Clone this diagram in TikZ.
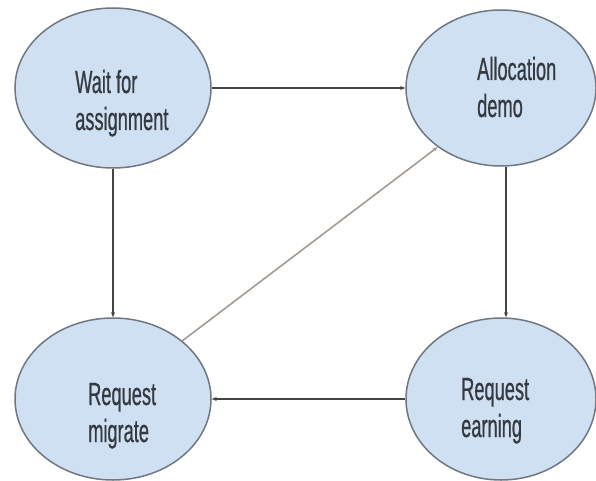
\documentclass[tikz,border=0pt]{standalone}
\usepackage{fontspec}
\setmainfont[FakeStretch=0.57]{Liberation Sans}
\newfontfamily\labelfont[FakeStretch=0.57,FakeBold=0.6]{Liberation Sans}
\usetikzlibrary{shapes.geometric,arrows.meta}
\definecolor{statefill}{HTML}{CFE0F3}
\definecolor{stateline}{HTML}{6F7780}
\definecolor{labeltext}{HTML}{353A40}
\definecolor{edgedark}{HTML}{454545}
\definecolor{edgelight}{HTML}{A39A93}
\tikzset{
  state/.style={ellipse, draw=stateline, fill=statefill, line width=1.5pt, inner sep=0pt},
  statelabel/.style={anchor=base west, align=left, inner sep=0pt, text=labeltext,
    font=\labelfont\fontsize{32}{37}\selectfont},
  flow/.style={draw=edgedark, line width=1.3pt, -{Stealth[length=5pt,width=4pt]}},
  flowlight/.style={flow, draw=edgelight, line width=1.6pt},
}
\begin{document}
\begin{tikzpicture}[x=1pt,y=-1pt]
  \useasboundingbox (0,0) rectangle (596,481);

  % states
  \node[state, minimum width=196pt, minimum height=160pt] (wait)    at (113,88)  {};
  \node[state, minimum width=190pt, minimum height=156pt] (alloc)   at (501,88)  {};
  \node[state, minimum width=196pt, minimum height=162pt] (migrate) at (113,399) {};
  \node[state, minimum width=190pt, minimum height=162pt] (earn)    at (501,399) {};

  % state names (anchored on the baseline of the second line)
  \node[statelabel] (waitlabel)    at (75,130)  {Wait for\\assignment};
  \node[statelabel] (alloclabel)   at (477,117) {Allocation\\demo};
  \node[statelabel] (migratelabel) at (88,442)  {Request\\migrate};
  \node[statelabel] (earnlabel)    at (461,437) {Request\\earning};

  % transitions
  \draw[flow] (wait.east) -- (alloc.west);
  \draw[flow] (wait.south) -- (migrate.north);
  \draw[flow] ([xshift=5pt]alloc.south) -- ([xshift=5pt]earn.north);
  \draw[flow] (earn.west) -- (migrate.east);
  \draw[flowlight] (migrate.40) -- (alloc.223);
\end{tikzpicture}
\end{document}
